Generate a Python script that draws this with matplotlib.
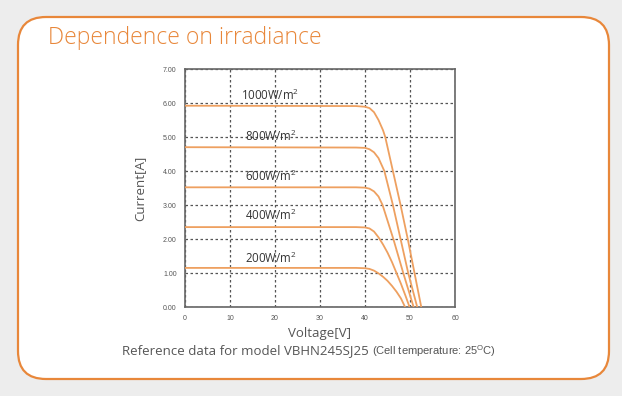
"""I-V curves of a solar module at several irradiance levels."""
import matplotlib.pyplot as plt
from matplotlib.patches import FancyBboxPatch

plt.rcParams['font.family'] = ['Open Sans', 'DejaVu Sans']
plt.rcParams['mathtext.default'] = 'regular'

# values (voltage V, current A)
labels = ['1000W/m$^2$', '800W/m$^2$', '600W/m$^2$', '400W/m$^2$', '200W/m$^2$']
label_pos = [(19.0, 6.21), (19.0, 5.03), (19.0, 3.85), (19.0, 2.68), (19.0, 1.44)]

v_1000 = [0, 38, 40, 41, 42, 43, 44, 44.5, 46.2, 47.9, 49.5, 51.0, 52.5]
i_1000 = [5.92, 5.91, 5.89, 5.85, 5.73, 5.50, 5.20, 5.0, 4.0, 3.0, 2.0, 1.0, 0.0]

v_800 = [0, 38, 40, 41, 42, 43, 44.3, 46.2, 47.9, 49.6, 51.6]
i_800 = [4.70, 4.69, 4.68, 4.64, 4.55, 4.38, 4.0, 3.0, 2.0, 1.0, 0.0]

v_600 = [0, 38, 40, 41, 42, 43, 43.9, 46.3, 48.5, 50.8]
i_600 = [3.52, 3.52, 3.51, 3.48, 3.40, 3.25, 3.0, 2.0, 1.0, 0.0]

v_400 = [0, 38, 40, 41, 42, 43, 44, 45, 46, 47, 48, 49, 49.9]
i_400 = [2.35, 2.35, 2.34, 2.31, 2.22, 2.05, 1.84, 1.60, 1.32, 1.00, 0.68, 0.33, 0.0]

v_200 = [0, 38, 40, 41, 42, 43, 44, 45, 46, 47, 48, 48.9]
i_200 = [1.15, 1.15, 1.14, 1.12, 1.07, 0.99, 0.89, 0.77, 0.62, 0.45, 0.25, 0.0]

curves = [(v_1000, i_1000), (v_800, i_800), (v_600, i_600),
          (v_400, i_400), (v_200, i_200)]

x_ticks = [0, 10, 20, 30, 40, 50, 60]
y_ticks = [0, 1, 2, 3, 4, 5, 6, 7]

orange = '#E8873A'
line_color = '#EEA060'
gray = '#555555'
narrow = ['Liberation Sans', 'DejaVu Sans']

fig = plt.figure(figsize=(6.22, 3.96), dpi=100)
fig.patch.set_facecolor('#ededed')

# rounded white panel with orange border
W, H = 622, 396
panel = FancyBboxPatch((18 / W, (H - 379) / H), (609 - 18) / W, (379 - 17) / H,
                       boxstyle='round,pad=0,rounding_size=0.045',
                       transform=fig.transFigure, facecolor='white',
                       edgecolor=orange, linewidth=1.6, mutation_aspect=W / H,
                       zorder=-10)
fig.patches.append(panel)

fig.text(48 / W, 1 - 38 / H, 'Dependence on irradiance', color=orange,
         fontsize=16.5, fontweight='light', va='center', ha='left')

ax = fig.add_axes([185 / W, (H - 307) / H, 270 / W, 238 / H])
ax.set_facecolor('white')
for (v, i) in curves:
    ax.plot(v, i, color=line_color, linewidth=1.3, zorder=3)
for lab, (x, y) in zip(labels, label_pos):
    ax.text(x, y, lab, ha='center', va='center', fontsize=8.3, color='#333333',
            zorder=4)

ax.set_xlim(0, 60)
ax.set_ylim(0, 7)
ax.set_xticks(x_ticks)
ax.set_yticks(y_ticks)
ax.set_xticklabels([str(t) for t in x_ticks])
ax.set_yticklabels(['%.2f' % t for t in y_ticks])
ax.tick_params(length=0, labelsize=5, colors=gray, pad=6)
for lbl in ax.get_xticklabels() + ax.get_yticklabels():
    lbl.set_family(narrow)
ax.grid(True, linestyle=(0, (2, 2)), color='#555555', linewidth=0.9)
for sp in ax.spines.values():
    sp.set_color('#666666')
    sp.set_linewidth(1.2)

ax.set_xlabel('Voltage[V]', fontsize=9.5, color=gray, labelpad=3)
ax.set_ylabel('Current[A]', fontsize=9.5, color=gray, labelpad=12)

cap = fig.text(122 / W, 1 - 351 / H, 'Reference data for model VBHN245SJ25 ',
               fontsize=9.5, color=gray, va='center', ha='left')
fig.canvas.draw()
bb = cap.get_window_extent().transformed(fig.transFigure.inverted())
fig.text(bb.x1, 1 - 351 / H, '(Cell temperature: 25$^{O}$C)', fontsize=8,
         color=gray, va='center', ha='left', family=narrow)

fig.savefig('out.png', dpi=100, facecolor=fig.get_facecolor())
